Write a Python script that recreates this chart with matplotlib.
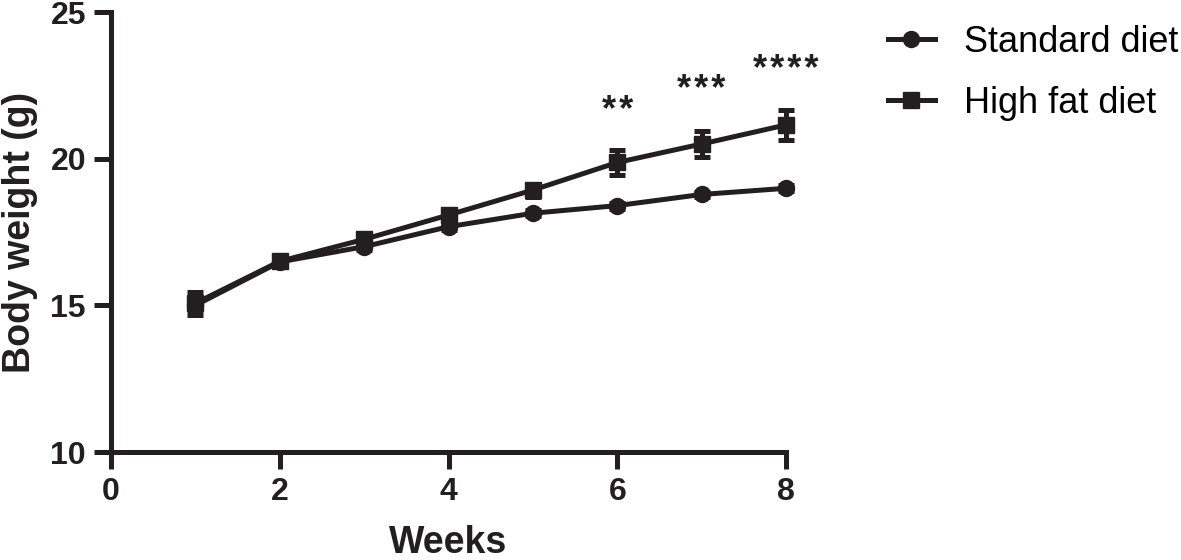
import numpy as np
import matplotlib.pyplot as plt
from matplotlib.lines import Line2D

plt.rcParams['font.family'] = ['Liberation Sans', 'DejaVu Sans']

# data
weeks = [1, 2, 3, 4, 5, 6, 7, 8]
standard_mean = [15.0, 16.48, 17.0, 17.68, 18.14, 18.40, 18.78, 18.99]
standard_err = [0.15, 0.10, 0.10, 0.12, 0.10, 0.10, 0.10, 0.10]
highfat_mean = [15.07, 16.50, 17.25, 18.08, 18.93, 19.87, 20.50, 21.15]
highfat_err = [0.40, 0.12, 0.12, 0.18, 0.22, 0.43, 0.45, 0.51]

sig_weeks = [6, 7, 8]
sig_labels = ['**', '***', '****']
sig_y = [21.62, 22.34, 23.02]

ink = '#231f20'
lw = 3.6

f = plt.figure(figsize=(11.81, 5.6), dpi=100)
ax = f.add_axes([111 / 1181, 108 / 560, 675 / 1181, 440 / 560])

ax.errorbar(weeks, standard_mean, yerr=standard_err, color=ink, lw=lw,
            marker='o', ms=11.5, capsize=5.5, capthick=lw, elinewidth=lw,
            clip_on=False, zorder=3)
ax.errorbar(weeks, highfat_mean, yerr=highfat_err, color=ink, lw=lw,
            marker='s', ms=11.5, capsize=5.5, capthick=lw, elinewidth=lw,
            clip_on=False, zorder=4)

# significance stars, spaced out a little like the original
for w, s, yy in zip(sig_weeks, sig_labels, sig_y):
    ax.text(w, yy, '\u200a'.join(s), ha='center', va='center', fontsize=26,
            fontweight='bold', color=ink)

ax.set_xlim(0, 8)
ax.set_ylim(10, 25)
ax.set_xticks([0, 2, 4, 6, 8])
ax.set_yticks([10, 15, 20, 25])
for side in ['top', 'right']:
    ax.spines[side].set_visible(False)
for side in ['left', 'bottom']:
    ax.spines[side].set_linewidth(lw)
    ax.spines[side].set_color(ink)
ax.tick_params(width=lw, length=12, color=ink, labelsize=23, labelcolor=ink, pad=6)
for lbl in ax.get_xticklabels() + ax.get_yticklabels():
    lbl.set_fontweight('bold')

ax.set_xlabel('Weeks', fontsize=27, fontweight='bold', color=ink, labelpad=13)
ax.set_ylabel('Body weight (g)', fontsize=27, fontweight='bold', color=ink, labelpad=9)

# legend without error bars, like the original
handles = [Line2D([], [], color=ink, lw=lw, marker='o', ms=11.5),
           Line2D([], [], color=ink, lw=lw, marker='s', ms=11.5)]
labels = ['Standard diet', 'High fat diet']
f.legend(handles, labels, loc='upper left', bbox_to_anchor=(888 / 1181, 1 - 25 / 560),
         frameon=False, fontsize=26, handlelength=1.3, handletextpad=0.8,
         labelspacing=0.72, borderaxespad=0, borderpad=0)

f.savefig('out.png', dpi=100)
